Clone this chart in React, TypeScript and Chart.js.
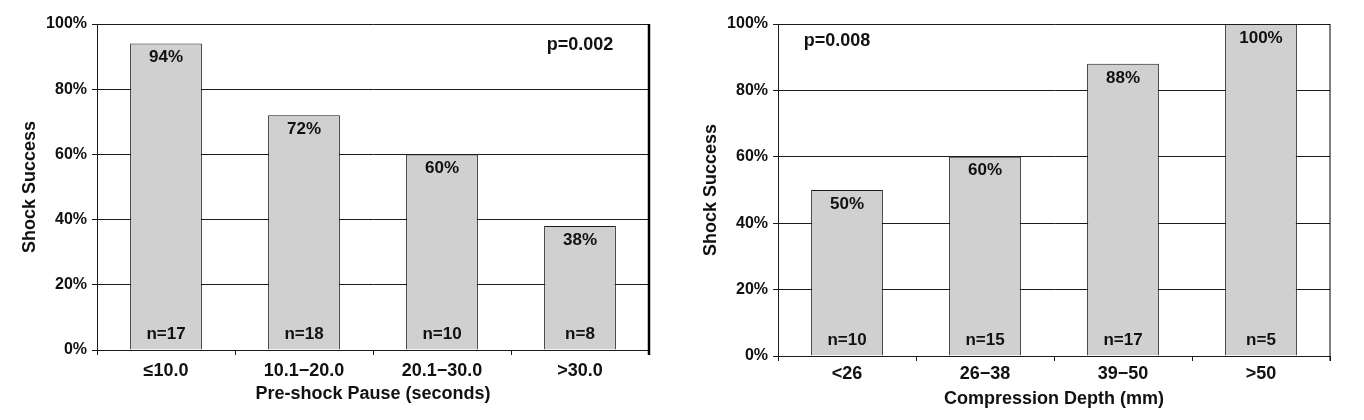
import React, { useEffect, useRef } from 'react';
import { Chart, registerables } from 'chart.js';

Chart.register(...registerables);

// ---- data ----
const leftCategories = ['≤10.0', '10.1−20.0', '20.1−30.0', '>30.0'];
const leftValues = [94, 72, 60, 38];
const leftCounts = [17, 18, 10, 8];
const leftXTitle = 'Pre-shock Pause (seconds)';
const leftPValue = 'p=0.002';

const rightCategories = ['<26', '26−38', '39−50', '>50'];
const rightValues = [50, 60, 88, 100];
const rightCounts = [10, 15, 17, 5];
const rightXTitle = 'Compression Depth (mm)';
const rightPValue = 'p=0.008';

const yTitle = 'Shock Success';
const yMin = 0;
const yMax = 100;
const yStep = 20;

const FONT = '"Liberation Sans", Arial, Helvetica, sans-serif';
const TEXT = '#111111';
const LINE = '#1a1a1a';

type Layout = {
  width: number;
  yAxisWidth: number;
  xAxisHeight: number;
  padRight: number;
  padTop: number;
  yTitlePad: number;
  xTitlePad: number;
  xTickPad: number;
  pX: number; // fraction of chart area
  pY: number;
  rightBorderWidth: number;
};

const barLabelPlugin = {
  id: 'barLabels',
  afterDatasetsDraw(chart: any, _args: any, opts: any) {
    const ctx = chart.ctx;
    const meta = chart.getDatasetMeta(0);
    const values: number[] = chart.data.datasets[0].data;
    const counts: number[] = opts.counts || [];
    ctx.save();
    ctx.fillStyle = TEXT;
    ctx.font = `bold 17px ${FONT}`;
    ctx.textAlign = 'center';
    ctx.textBaseline = 'middle';
    meta.data.forEach((bar: any, i: number) => {
      ctx.fillText(values[i] + '%', bar.x, bar.y + 14);
      ctx.fillText('n=' + counts[i], bar.x, bar.base - 15);
    });
    // p-value
    const a = chart.chartArea;
    ctx.font = `bold 18px ${FONT}`;
    ctx.fillText(opts.pText, a.left + (a.right - a.left) * opts.pX, a.top + (a.bottom - a.top) * opts.pY);
    // right border
    ctx.strokeStyle = '#000';
    ctx.lineWidth = opts.rightBorderWidth;
    ctx.beginPath();
    ctx.moveTo(a.right, a.top);
    ctx.lineTo(a.right, a.bottom + 5);
    ctx.stroke();
    ctx.restore();
  },
};

function makeConfig(categories: string[], values: number[], counts: number[], xTitle: string, pText: string, L: Layout): any {
  return {
    type: 'bar',
    data: {
      labels: categories,
      datasets: [
        {
          data: values,
          backgroundColor: '#d0d0d0',
          borderColor: LINE,
          borderWidth: 1,
          categoryPercentage: 1,
          barPercentage: 0.52,
        },
      ],
    },
    plugins: [barLabelPlugin],
    options: {
      responsive: false,
      maintainAspectRatio: false,
      animation: false,
      layout: { padding: { left: 0, right: L.padRight, top: L.padTop, bottom: 0 } },
      plugins: {
        legend: { display: false },
        tooltip: { enabled: false },
        barLabels: { counts, pText, pX: L.pX, pY: L.pY, rightBorderWidth: L.rightBorderWidth },
      },
      scales: {
        x: {
          offset: true,
          afterFit: (s: any) => {
            s.height = L.xAxisHeight;
          },
          grid: {
            offset: true,
            drawOnChartArea: false,
            drawTicks: true,
            tickLength: 5,
            color: LINE,
            lineWidth: 1,
          },
          border: { display: true, color: LINE, width: 1 },
          ticks: {
            color: TEXT,
            font: { family: FONT, size: 18, weight: 'bold' },
            padding: L.xTickPad,
            maxRotation: 0,
            autoSkip: false,
          },
          title: {
            display: true,
            text: xTitle,
            color: TEXT,
            font: { family: FONT, size: 18, weight: 'bold' },
            padding: { top: 0, bottom: L.xTitlePad },
          },
        },
        y: {
          min: yMin,
          max: yMax,
          afterFit: (s: any) => {
            s.width = L.yAxisWidth;
          },
          grid: {
            color: LINE,
            lineWidth: 1,
            drawTicks: true,
            tickLength: 5,
          },
          border: { display: true, color: LINE, width: 1 },
          ticks: {
            stepSize: yStep,
            color: TEXT,
            font: { family: FONT, size: 16, weight: 'bold' },
            padding: 5,
            callback: (v: any) => v + '%',
          },
          title: {
            display: true,
            text: yTitle,
            color: TEXT,
            font: { family: FONT, size: 18, weight: 'bold' },
            padding: { top: L.yTitlePad, bottom: 0 },
          },
        },
      },
    },
  };
}

function BarChart(props: { categories: string[]; values: number[]; counts: number[]; xTitle: string; pText: string; L: Layout; left: number }) {
  const ref = useRef<HTMLCanvasElement | null>(null);
  useEffect(() => {
    if (!ref.current) return;
    const chart = new Chart(ref.current, makeConfig(props.categories, props.values, props.counts, props.xTitle, props.pText, props.L));
    return () => chart.destroy();
  }, []);
  return (
    <canvas
      ref={ref}
      width={props.L.width}
      height={420}
      style={{ position: 'absolute', left: props.left, top: 0, width: props.L.width, height: 420, display: 'block' }}
    />
  );
}

const leftLayout: Layout = {
  width: 680,
  yAxisWidth: 97,
  xAxisHeight: 70,
  padRight: 31,
  padTop: 24,
  yTitlePad: 19,
  xTitlePad: 15,
  xTickPad: 5,
  pX: 0.875,
  pY: 0.065,
  rightBorderWidth: 2.5,
};

const rightLayout: Layout = {
  width: 684,
  yAxisWidth: 98,
  xAxisHeight: 64,
  padRight: 34,
  padTop: 24,
  yTitlePad: 20,
  xTitlePad: 10,
  xTickPad: 2,
  pX: 0.107,
  pY: 0.052,
  rightBorderWidth: 1,
};

export default function App() {
  return (
    <div style={{ position: 'absolute', left: 0, top: 0, width: 1364, height: 420, background: '#fff', overflow: 'hidden' }}>
      <BarChart categories={leftCategories} values={leftValues} counts={leftCounts} xTitle={leftXTitle} pText={leftPValue} L={leftLayout} left={0} />
      <BarChart categories={rightCategories} values={rightValues} counts={rightCounts} xTitle={rightXTitle} pText={rightPValue} L={rightLayout} left={680} />
    </div>
  );
}
